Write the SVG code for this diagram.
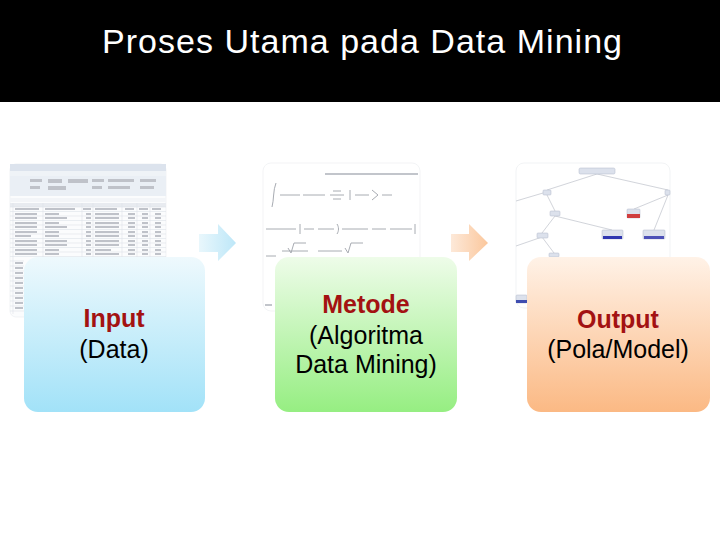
<svg xmlns="http://www.w3.org/2000/svg" width="720" height="540" viewBox="0 0 720 540">
<defs>
<linearGradient id="gBlue" x1="0" y1="0" x2="0" y2="1"><stop offset="0" stop-color="#eef9fd"/><stop offset="1" stop-color="#a2e2f8"/></linearGradient>
<linearGradient id="gGreen" x1="0" y1="0" x2="0" y2="1"><stop offset="0" stop-color="#eefce9"/><stop offset="1" stop-color="#96ee82"/></linearGradient>
<linearGradient id="gOrange" x1="0" y1="0" x2="0" y2="1"><stop offset="0" stop-color="#fff2e7"/><stop offset="1" stop-color="#fbb984"/></linearGradient>
<linearGradient id="aBlue" x1="0" y1="0" x2="1" y2="0"><stop offset="0" stop-color="#e9f7fc"/><stop offset="1" stop-color="#bde7f8"/></linearGradient>
<linearGradient id="aOrange" x1="0" y1="0" x2="1" y2="0"><stop offset="0" stop-color="#fde9d9"/><stop offset="1" stop-color="#fbc79c"/></linearGradient>
<style>
.title{font-family:"Liberation Sans",Arial,sans-serif;font-size:34px;fill:#ffffff}
.lbl{font-family:"Liberation Sans",Arial,sans-serif;font-size:25px;fill:#000000;text-anchor:middle}
.hd{font-weight:bold;fill:#a31212}
.grid{stroke:#d9dee5;stroke-width:0.6}
.ink{fill:#b4b8c0}
.fml{stroke:#9a9ea6;stroke-width:1;fill:none}
.tn{fill:#d9deea;stroke:#aab2c6;stroke-width:0.5}
.tl{stroke:#b8bcc6;stroke-width:0.7;fill:none}
</style>
</defs>
<rect x="0" y="0" width="720" height="540" fill="#ffffff"/>
<rect x="0" y="0" width="720" height="102" fill="#000000"/>
<text class="title" x="102" y="53" textLength="520" lengthAdjust="spacing">Proses Utama pada Data Mining</text>

<!-- background picture 1: spreadsheet -->
<g id="pic-spreadsheet" opacity="0.85">
<rect x="10" y="164" width="156" height="153" rx="6" fill="#fbfcfd" stroke="#e6e9ee" stroke-width="0.6"/>
<rect x="10" y="164" width="156" height="7" fill="#d6dfeb"/>
<rect x="10" y="171" width="156" height="5" fill="#edf1f6"/>
<rect x="10" y="176" width="156" height="20" fill="#e7edf4"/>
<g class="ink">
<rect x="30" y="179" width="12" height="3"/><rect x="48" y="179" width="14" height="4"/><rect x="68" y="179" width="20" height="4"/><rect x="92" y="179" width="12" height="3"/><rect x="108" y="179" width="26" height="3"/><rect x="140" y="179" width="16" height="3"/>
<rect x="30" y="186" width="10" height="3"/><rect x="48" y="186" width="18" height="4"/><rect x="92" y="186" width="10" height="3"/><rect x="108" y="186" width="22" height="3"/><rect x="140" y="186" width="14" height="3"/>
</g>
<rect x="10" y="198" width="156" height="4" fill="#f2f4f7"/>
<rect x="10" y="203" width="156" height="4" fill="#e4e8ee"/>
<g class="grid">
<line x1="10" y1="207" x2="166" y2="207"/><line x1="10" y1="211.5" x2="166" y2="211.5"/><line x1="10" y1="216" x2="166" y2="216"/><line x1="10" y1="220.5" x2="166" y2="220.5"/><line x1="10" y1="225" x2="166" y2="225"/><line x1="10" y1="229.5" x2="166" y2="229.5"/><line x1="10" y1="234" x2="166" y2="234"/><line x1="10" y1="238.5" x2="166" y2="238.5"/><line x1="10" y1="243" x2="166" y2="243"/><line x1="10" y1="247.5" x2="166" y2="247.5"/><line x1="10" y1="252" x2="166" y2="252"/><line x1="10" y1="256.5" x2="166" y2="256.5"/>
<line x1="10" y1="261" x2="24" y2="261"/><line x1="10" y1="266" x2="24" y2="266"/><line x1="10" y1="271" x2="24" y2="271"/><line x1="10" y1="276" x2="24" y2="276"/><line x1="10" y1="281" x2="24" y2="281"/><line x1="10" y1="286" x2="24" y2="286"/><line x1="10" y1="291" x2="24" y2="291"/><line x1="10" y1="296" x2="24" y2="296"/><line x1="10" y1="301" x2="24" y2="301"/><line x1="10" y1="306" x2="24" y2="306"/><line x1="10" y1="311" x2="24" y2="311"/>
<line x1="13" y1="203" x2="13" y2="314"/><line x1="43" y1="203" x2="43" y2="257"/><line x1="82" y1="203" x2="82" y2="257"/><line x1="93" y1="203" x2="93" y2="257"/><line x1="122" y1="203" x2="122" y2="257"/><line x1="137" y1="203" x2="137" y2="257"/><line x1="150" y1="203" x2="150" y2="257"/>
</g>
<g class="ink">
<rect x="15" y="208" width="24" height="2"/><rect x="45" y="208" width="30" height="2"/><rect x="83" y="208" width="8" height="2"/><rect x="95" y="208" width="22" height="2"/><rect x="125" y="208" width="9" height="2"/><rect x="139" y="208" width="9" height="2"/><rect x="152" y="208" width="9" height="2"/>
<rect x="15" y="213" width="22" height="2"/><rect x="45" y="213" width="14" height="2"/><rect x="86" y="213" width="5" height="2"/><rect x="95" y="213" width="24" height="2"/><rect x="128" y="213" width="7" height="2"/><rect x="142" y="213" width="6" height="2"/><rect x="155" y="213" width="6" height="2"/>
<rect x="15" y="217" width="22" height="2"/><rect x="45" y="217" width="22" height="2"/><rect x="86" y="217" width="5" height="2"/><rect x="95" y="217" width="24" height="2"/><rect x="128" y="217" width="7" height="2"/><rect x="142" y="217" width="6" height="2"/><rect x="155" y="217" width="6" height="2"/>
<rect x="15" y="222" width="22" height="2"/><rect x="45" y="222" width="14" height="2"/><rect x="86" y="222" width="5" height="2"/><rect x="95" y="222" width="24" height="2"/><rect x="128" y="222" width="7" height="2"/><rect x="142" y="222" width="6" height="2"/><rect x="155" y="222" width="6" height="2"/>
<rect x="15" y="226" width="22" height="2"/><rect x="45" y="226" width="22" height="2"/><rect x="86" y="226" width="5" height="2"/><rect x="95" y="226" width="24" height="2"/><rect x="128" y="226" width="7" height="2"/><rect x="142" y="226" width="6" height="2"/><rect x="155" y="226" width="6" height="2"/>
<rect x="15" y="231" width="22" height="2"/><rect x="45" y="231" width="14" height="2"/><rect x="86" y="231" width="5" height="2"/><rect x="95" y="231" width="24" height="2"/><rect x="128" y="231" width="7" height="2"/><rect x="142" y="231" width="6" height="2"/><rect x="155" y="231" width="6" height="2"/>
<rect x="15" y="235" width="16" height="2"/><rect x="45" y="235" width="14" height="2"/><rect x="86" y="235" width="5" height="2"/><rect x="95" y="235" width="24" height="2"/><rect x="128" y="235" width="7" height="2"/><rect x="142" y="235" width="6" height="2"/><rect x="155" y="235" width="6" height="2"/>
<rect x="15" y="240" width="22" height="2"/><rect x="45" y="240" width="22" height="2"/><rect x="86" y="240" width="5" height="2"/><rect x="95" y="240" width="24" height="2"/><rect x="128" y="240" width="7" height="2"/><rect x="142" y="240" width="6" height="2"/><rect x="155" y="240" width="6" height="2"/>
<rect x="15" y="244" width="22" height="2"/><rect x="45" y="244" width="22" height="2"/><rect x="86" y="244" width="5" height="2"/><rect x="95" y="244" width="24" height="2"/><rect x="128" y="244" width="7" height="2"/><rect x="142" y="244" width="6" height="2"/><rect x="155" y="244" width="6" height="2"/>
<rect x="15" y="249" width="22" height="2"/><rect x="45" y="249" width="14" height="2"/><rect x="86" y="249" width="5" height="2"/><rect x="95" y="249" width="16" height="2"/><rect x="128" y="249" width="7" height="2"/><rect x="142" y="249" width="6" height="2"/><rect x="155" y="249" width="6" height="2"/>
<rect x="15" y="253" width="22" height="2"/><rect x="45" y="253" width="14" height="2"/><rect x="86" y="253" width="5" height="2"/><rect x="95" y="253" width="24" height="2"/><rect x="128" y="253" width="7" height="2"/><rect x="142" y="253" width="6" height="2"/><rect x="155" y="253" width="6" height="2"/>
<rect x="15" y="262" width="8" height="2"/><rect x="15" y="267" width="8" height="2"/><rect x="15" y="272" width="8" height="2"/><rect x="15" y="277" width="8" height="2"/><rect x="15" y="282" width="8" height="2"/><rect x="15" y="287" width="8" height="2"/><rect x="15" y="292" width="8" height="2"/><rect x="15" y="297" width="8" height="2"/><rect x="15" y="302" width="8" height="2"/><rect x="15" y="307" width="8" height="2"/>
</g>
</g>

<!-- background picture 2: formulas -->
<g id="pic-formulas" opacity="0.85">
<rect x="263" y="163" width="157" height="148" rx="8" fill="#ffffff" stroke="#eef0f2" stroke-width="0.8"/>
<rect x="325" y="173" width="93" height="2" fill="#b8bcc2"/>
<path class="fml" d="M272 207 C274 200 273 190 276 183"/>
<path class="fml" d="M280 195 h20 M303 195 h22 M330 195 h14 M333 191 h8 M333 199 h8 M350 190 v10 M355 195 h14 M372 190 l6 5 l-6 5 M382 195 h10"/>
<path class="fml" d="M266 229 h30 M300 224 v10 M304 229 h10 M318 229 h16 M337 224 c2 3 2 7 0 10 M342 229 h26 M372 229 h14 M390 229 h22 M415 224 v10"/>
<path class="fml" d="M266 256 h10 M282 251 h26 M288 248 l3 5 l3 -10 h12 M318 251 h24 M345 248 l3 5 l3 -10 h12"/>
<rect x="265" y="304" width="7" height="2" fill="#b8bcc2"/>
</g>

<!-- background picture 3: decision tree -->
<g id="pic-tree" opacity="0.9">
<rect x="516" y="163" width="154" height="145" rx="8" fill="#ffffff" stroke="#eef0f2" stroke-width="0.8"/>
<path class="tl" d="M597 174 L547 190 M597 174 L668 190 M547 195 L555 211 M543 193 L516 201 M555 216 L542 233 M555 216 L612 230 M668 195 L634 209 M668 195 L654 230 M542 237 L516 246 M542 237 L554 253"/>
<rect class="tn" x="579" y="168" width="36" height="6" rx="1.5"/>
<rect class="tn" x="543" y="190" width="8" height="5" rx="1"/>
<rect class="tn" x="665" y="190" width="5" height="5" rx="1"/>
<rect class="tn" x="550" y="211" width="10" height="5" rx="1"/>
<rect class="tn" x="627" y="209" width="13" height="9" rx="1"/>
<rect x="627" y="214" width="13" height="4" fill="#cc2a2a"/>
<rect class="tn" x="602" y="230" width="21" height="9" rx="1"/>
<rect x="603" y="236" width="19" height="3" fill="#1a22a8"/>
<rect class="tn" x="643" y="230" width="22" height="9" rx="1"/>
<rect x="644" y="236" width="20" height="3" fill="#3a3fb0"/>
<rect class="tn" x="537" y="233" width="11" height="5" rx="1"/>
<rect class="tn" x="549" y="253" width="10" height="4" rx="1"/>
<rect class="tn" x="516" y="295" width="11" height="8" rx="1"/>
<rect x="516" y="300" width="11" height="3" fill="#2a3aa8"/>
</g>

<!-- connectors -->
<g id="connectors">
<path d="M199 234 H218 V224 L236 243 L218 261 V252 H199 Z" fill="url(#aBlue)"/>
<path d="M451 234 H469 V224 L488 243 L469 261 V252 H451 Z" fill="url(#aOrange)"/>
</g>

<g id="node-input">
<rect x="24" y="257" width="181" height="155" rx="14" fill="url(#gBlue)"/>
<text class="lbl hd" x="114" y="327">Input</text>
<text class="lbl" x="114" y="358">(Data)</text>
</g>
<g id="node-metode">
<rect x="275" y="257" width="182" height="155" rx="14" fill="url(#gGreen)"/>
<text class="lbl hd" x="366" y="313">Metode</text>
<text class="lbl" x="366" y="344">(Algoritma</text>
<text class="lbl" x="366" y="373">Data Mining)</text>
</g>
<g id="node-output">
<rect x="527" y="257" width="183" height="155" rx="14" fill="url(#gOrange)"/>
<text class="lbl hd" x="618" y="328">Output</text>
<text class="lbl" x="618" y="358">(Pola/Model)</text>
</g>
</svg>
